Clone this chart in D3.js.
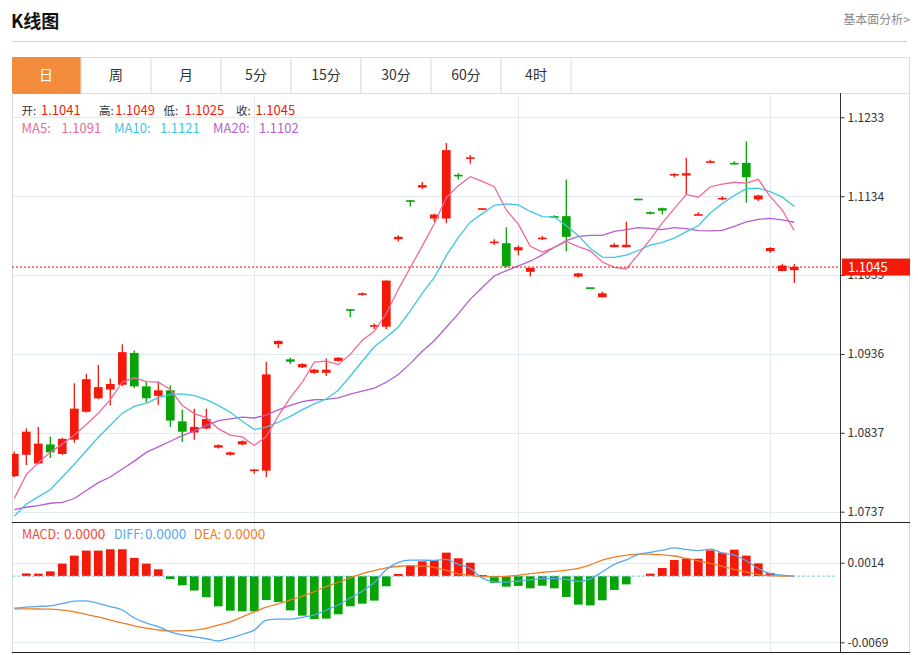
<!DOCTYPE html>
<html>
<head>
<meta charset="utf-8">
<script src="https://cdn.jsdelivr.net/npm/d3@7/dist/d3.min.js"></script>
<style>
html,body{margin:0;padding:0;background:#fff;}
svg{display:block;}
text{font-family:"Noto Sans CJK SC","Liberation Sans",sans-serif;}
</style>
</head>
<body>
<svg id="chart" width="918" height="655"></svg>
<script>
// ---------- data ----------
const tabs = ["日","周","月","5分","15分","30分","60分","4时"];
const opens = [1.0782,1.0809,1.0798,1.0822,1.0810,1.0828,1.0863,1.0880,1.0891,1.0897,
1.0937,1.0895,1.0883,1.0890,1.0851,1.0837,1.0842,1.0818,1.0809,1.0822,
1.0789,1.0789,1.0948,1.0929,1.0919,1.0912,1.0912,1.0927,1.0992,1.1010,
1.0970,1.0970,1.1080,1.1129,1.1145,1.1106,1.1106,1.1161,1.1181,1.1117,
1.1075,1.1075,1.1066,1.1039,1.1080,1.1109,1.1109,1.1033,1.1019,1.1007,
1.1070,1.1070,1.1131,1.1114,1.1119,1.1160,1.1160,1.1110,1.1176,1.1130,
1.1176,1.1176,1.1130,1.1065,1.1040,1.1041];
const highs = [1.0813,1.0842,1.0844,1.0832,1.0830,1.0899,1.0911,1.0922,1.0905,1.0948,
1.0940,1.0901,1.0901,1.0896,1.0866,1.0867,1.0867,1.0822,1.0813,1.0827,
1.0791,1.0926,1.0953,1.0931,1.0924,1.0917,1.0930,1.0932,1.0992,1.1013,
1.0974,1.1028,1.1085,1.1129,1.1152,1.1112,1.1201,1.1163,1.1186,1.1119,
1.1080,1.1095,1.1072,1.1044,1.1084,1.1110,1.1155,1.1038,1.1019,1.1014,
1.1075,1.1102,1.1131,1.1115,1.1120,1.1163,1.1182,1.1114,1.1180,1.1134,
1.1178,1.1203,1.1136,1.1070,1.1049,1.1049];
const lows = [1.0781,1.0796,1.0797,1.0805,1.0809,1.0824,1.0862,1.0879,1.0871,1.0895,
1.0893,1.0875,1.0872,1.0844,1.0825,1.0828,1.0841,1.0817,1.0808,1.0821,
1.0785,1.0781,1.0943,1.0923,1.0918,1.0911,1.0908,1.0926,1.0982,1.1009,
1.0967,1.0967,1.1077,1.1121,1.1143,1.1102,1.1100,1.1155,1.1175,1.1117,
1.1073,1.1044,1.1060,1.1033,1.1079,1.1107,1.1065,1.1032,1.1018,1.1007,
1.1070,1.1070,1.1129,1.1111,1.1111,1.1158,1.1137,1.1110,1.1176,1.1129,
1.1174,1.1126,1.1128,1.1063,1.1040,1.1025];
const closes = [1.0810,1.0838,1.0823,1.0812,1.0829,1.0867,1.0904,1.0894,1.0898,1.0938,
1.0895,1.0880,1.0890,1.0852,1.0838,1.0844,1.0854,1.0821,1.0812,1.0826,
1.0790,1.0910,1.0952,1.0926,1.0923,1.0916,1.0916,1.0931,1.0990,1.1012,
1.0972,1.1028,1.1083,1.1127,1.1148,1.1111,1.1192,1.1159,1.1183,1.1119,
1.1077,1.1046,1.1070,1.1044,1.1082,1.1107,1.1083,1.1037,1.1018,1.1012,
1.1073,1.1073,1.1129,1.1112,1.1116,1.1162,1.1163,1.1111,1.1178,1.1132,
1.1174,1.1158,1.1135,1.1069,1.1047,1.1045];
// moving-average values at the left edge (window reaches before the visible data)
const ma5Head  = [1.0754,1.0784,1.0799,1.0812];
const ma10Head = [1.0732,1.0747,1.0756,1.0765,1.0781,1.0797,1.0814,1.0831,1.0846];
const ma20Head = [1.0740,1.0743,1.0745,1.0748,1.0749,1.0754,1.0764,1.0774,1.0781,1.0791,
1.0801,1.0812,1.0819,1.0826,1.0833,1.0839,1.0846,1.0852,1.0854];
// MACD panel values
const macdHist = [0,0.00028,0.00026,0.0005,0.0013,0.00214,0.00266,0.00266,0.0028,0.0028,
0.0019,0.0013,0.00071,-0.0003,-0.00096,-0.0015,-0.0022,-0.00315,-0.0036,-0.00367,
-0.00367,-0.0025,-0.0027,-0.00357,-0.00412,-0.00447,-0.00443,-0.00398,-0.00315,-0.00287,
-0.00255,-0.00106,0.00023,0.0011,0.00154,0.00165,0.00245,0.00186,0.0014,0.00012,
-0.0007,-0.0011,-0.00102,-0.00127,-0.001,-0.00127,-0.00217,-0.00297,-0.00305,-0.00252,
-0.00144,-0.00086,0,0.00026,0.00085,0.00169,0.00182,0.00182,0.00269,0.00245,
0.00276,0.00214,0.00133,0.00033,0,0];
const diffVals = [-0.00333,-0.00323,-0.00316,-0.0031,-0.00286,-0.0026,-0.00258,-0.00285,-0.00317,-0.00353,
-0.00437,-0.00489,-0.00527,-0.00581,-0.00613,-0.00633,-0.00653,-0.00675,-0.00647,-0.00606,
-0.00563,-0.00459,-0.00449,-0.00449,-0.0043,-0.00404,-0.00353,-0.00301,-0.00228,-0.00158,
-0.00067,0.00066,0.00143,0.00167,0.00166,0.00165,0.00175,0.00123,0.00081,-0.00021,
-0.00059,-0.00062,-0.00051,-0.0004,-0.00026,-0.00026,-0.00034,-0.00055,-0.00029,0.00045,
0.00123,0.00169,0.00227,0.00248,0.0027,0.00294,0.00278,0.00265,0.00282,0.00241,
0.0022,0.0016,0.00079,0.00026,0.0001,0];
const deaVals = [-0.00341,-0.00342,-0.00343,-0.00344,-0.00355,-0.00372,-0.00399,-0.00425,-0.00459,-0.00489,
-0.00518,-0.00542,-0.00561,-0.00571,-0.00571,-0.00564,-0.00544,-0.0051,-0.00476,-0.00424,
-0.00373,-0.00324,-0.00289,-0.0025,-0.00209,-0.00162,-0.00109,-0.00064,-0.00018,0.00027,
0.00058,0.00085,0.00103,0.0011,0.00105,0.00092,0.0006,0.00027,0.00008,-0.00005,
-0.0001,-0.00002,0.00008,0.00027,0.0004,0.00049,0.00063,0.00082,0.00118,0.00168,
0.00199,0.00217,0.00229,0.00229,0.00221,0.0021,0.00185,0.0016,0.00132,0.00101,
0.0007,0.00041,0.00019,0.00005,0,0];
const priceTickLabels = ["1.0737","1.0837","1.0936","1.1035","1.1134","1.1233"];
const priceRange = [1.07374, 1.12333];
const macdTickLabels = ["-0.0069","0.0014"];
const gridDayIdx = [20, 42, 63];
const lastPrice = "1.1045";
const ohlcLegend = [["开:","1.1041"],["高:","1.1049"],["低:","1.1025"],["收:","1.1045"]];
const maLegend = [["MA5:","1.1091"],["MA10:","1.1121"],["MA20:","1.1102"]];
const macdLegend = [["MACD:","0.0000"],["DIFF:","0.0000"],["DEA:","0.0000"]];

// ---------- layout ----------
const svg = d3.select("#chart");
const L = 12, R = 910, AX = 840.5;
const mainTop = 93, mainBot = 522, macdBot = 652;
const RED = "#f3190b", GREEN = "#07a307";
const C_MA5 = "#ee6a9c", C_MA10 = "#3fc7e0", C_MA20 = "#b35fcf";
const C_DIFF = "#55a7f0", C_DEA = "#f07c25";
const LATIN = "'Liberation Sans','Noto Sans CJK SC',Arial,sans-serif";

// header
svg.append("text").attr("x", 11).attr("y", 28).attr("font-size", 18).attr("font-weight", "bold")
  .attr("fill", "#111").text("K线图");
svg.append("text").attr("x", 910).attr("y", 24).attr("text-anchor", "end").attr("font-size", 12)
  .attr("fill", "#8a8a8a").text("基本面分析>");
svg.append("line").attr("x1", L).attr("x2", R - 3).attr("y1", 41.5).attr("y2", 41.5)
  .attr("stroke", "#cfcfcf").attr("stroke-width", 1.2);

// tabs
const tabG = svg.append("g");
tabG.append("rect").attr("x", L + 0.5).attr("y", 57.5).attr("width", R - L - 1).attr("height", 36)
  .attr("fill", "#fff").attr("stroke", "#dedede");
const tabX = d3.scaleBand().domain(tabs).range([11, 571]);
tabs.forEach((t, k) => {
  const x0 = Math.max(L + 0.5, tabX(t));
  tabG.append("rect").attr("x", x0).attr("y", 57.5).attr("width", tabX(t) + tabX.bandwidth() - x0).attr("height", 36)
    .attr("fill", k === 0 ? "#f38b3d" : "#fff").attr("stroke", k === 0 ? "#f38b3d" : "#dedede");
  tabG.append("text").attr("x", tabX(t) + tabX.bandwidth() / 2).attr("y", 80)
    .attr("text-anchor", "middle").attr("font-size", 14).attr("fill", k === 0 ? "#fff" : "#333").text(t);
});

// scales
const idx = closes.map((_, i) => i);
const x = d3.scaleBand().domain(idx).range([8.3, 800.3]).paddingInner(0.275).paddingOuter(0.1375);
const bw = x.bandwidth();
const cx = i => x(i) + bw / 2;
const y = d3.scaleLinear().domain(priceRange).range([511.7, 117.3]);
const priceTickVals = priceTickLabels.map((_, k) => priceRange[0] + k * (priceRange[1] - priceRange[0]) / (priceTickLabels.length - 1));
const yM = d3.scaleLinear().domain([-0.0069, 0.0014]).range([642.3, 562.7]);

// clip
const defs = svg.append("defs");
defs.append("clipPath").attr("id", "clipMain").append("rect").attr("x", L).attr("y", mainTop).attr("width", AX - L).attr("height", mainBot - mainTop);
defs.append("clipPath").attr("id", "clipMacd").append("rect").attr("x", L).attr("y", mainBot).attr("width", AX - L).attr("height", macdBot - mainBot);

// grid
const grid = svg.append("g").attr("stroke", "#e2e9f0").attr("stroke-width", 1);
priceTickVals.forEach(v => {
  const yy = Math.round(y(v)) + 0.5;
  grid.append("line").attr("x1", L).attr("x2", AX).attr("y1", yy).attr("y2", yy);
});
[0.0014, -0.0069].forEach(v => {
  const yy = Math.round(yM(v)) + 0.5;
  grid.append("line").attr("x1", L).attr("x2", AX).attr("y1", yy).attr("y2", yy);
});
gridDayIdx.forEach(i => {
  const xx = Math.round(cx(i)) + 0.5;
  grid.append("line").attr("x1", xx).attr("x2", xx).attr("y1", mainTop).attr("y2", macdBot);
});

// frame
svg.append("line").attr("x1", L + 0.5).attr("x2", L + 0.5).attr("y1", mainTop).attr("y2", macdBot).attr("stroke", "#dadada");
svg.append("line").attr("x1", R - 0.5).attr("x2", R - 0.5).attr("y1", mainTop).attr("y2", macdBot).attr("stroke", "#dadada");

// candles
const cg = svg.append("g").attr("clip-path", "url(#clipMain)");
idx.forEach(i => {
  const up = closes[i] >= opens[i];
  const col = up ? RED : GREEN;
  cg.append("line").attr("x1", cx(i)).attr("x2", cx(i)).attr("y1", y(highs[i])).attr("y2", y(lows[i]))
    .attr("stroke", col).attr("stroke-width", 1.3);
  const y1 = y(Math.max(opens[i], closes[i])), y2 = y(Math.min(opens[i], closes[i]));
  const h = Math.max(1.6, y2 - y1);
  cg.append("rect").attr("x", x(i)).attr("y", h > y2 - y1 ? (y1 + y2) / 2 - h / 2 : y1).attr("width", bw).attr("height", h)
    .attr("fill", col);
});

// moving averages
function movingAvg(n, head) {
  return closes.map((_, i) => i < n - 1 ? head[i] : d3.mean(closes.slice(i - n + 1, i + 1)));
}
const ma5 = movingAvg(5, ma5Head), ma10 = movingAvg(10, ma10Head), ma20 = movingAvg(20, ma20Head);
const lineP = d3.line().x((d, i) => cx(i)).y(d => y(d));
[[ma20, C_MA20], [ma10, C_MA10], [ma5, C_MA5]].forEach(([arr, c]) => {
  cg.append("path").attr("d", lineP(arr)).attr("fill", "none").attr("stroke", c).attr("stroke-width", 1.3);
});

// last price line
const yLast = y(+lastPrice);
svg.append("line").attr("x1", L).attr("x2", AX).attr("y1", yLast).attr("y2", yLast)
  .attr("stroke", "#f00").attr("stroke-width", 1).attr("stroke-dasharray", "2,2");

// MACD bars and lines
const mg = svg.append("g").attr("clip-path", "url(#clipMacd)");
idx.forEach(i => {
  const v = macdHist[i];
  if (v === 0) return;
  const ya = yM(Math.max(0, v)), yb = yM(Math.min(0, v));
  mg.append("rect").attr("x", x(i)).attr("y", ya).attr("width", bw).attr("height", Math.max(0.8, yb - ya))
    .attr("fill", v > 0 ? RED : GREEN);
});
const y0 = yM(0);
mg.append("line").attr("x1", L).attr("x2", AX - 4).attr("y1", y0).attr("y2", y0)
  .attr("stroke", "#79c6e6").attr("stroke-dasharray", "3,2").attr("stroke-width", 1);
const lineM = d3.line().x((d, i) => cx(i)).y(d => yM(d)).curve(d3.curveMonotoneX);
mg.append("path").attr("d", lineM(deaVals)).attr("fill", "none").attr("stroke", C_DEA).attr("stroke-width", 1.3);
mg.append("path").attr("d", lineM(diffVals)).attr("fill", "none").attr("stroke", C_DIFF).attr("stroke-width", 1.3);

// pane separators
svg.append("line").attr("x1", L).attr("x2", R).attr("y1", mainBot + 0.5).attr("y2", mainBot + 0.5).attr("stroke", "#222");
svg.append("line").attr("x1", L).attr("x2", R).attr("y1", macdBot + 0.5).attr("y2", macdBot + 0.5).attr("stroke", "#222");

// right axes
const axMain = svg.append("g").attr("transform", `translate(${AX},0)`)
  .call(d3.axisRight(y).tickValues(priceTickVals).tickSize(4).tickSizeOuter(0).tickPadding(3)
    .tickFormat((d, k) => priceTickLabels[k]));
const axMacd = svg.append("g").attr("transform", `translate(${AX},0)`)
  .call(d3.axisRight(yM).tickValues([-0.0069, 0.0014]).tickSize(4).tickSizeOuter(0).tickPadding(3)
    .tickFormat((d, k) => macdTickLabels[k]));
[axMain, axMacd].forEach(g => {
  g.select(".domain").remove();
  g.selectAll("line").attr("stroke", "#333");
  g.selectAll("text").attr("font-size", 12).attr("fill", "#333").attr("font-family", LATIN);
});
svg.append("line").attr("x1", AX).attr("x2", AX).attr("y1", mainTop).attr("y2", macdBot + 1).attr("stroke", "#333");

// last price tag
svg.append("rect").attr("x", 842).attr("y", yLast - 8.5).attr("width", R - 842).attr("height", 17).attr("fill", "#f41a0a");
svg.append("text").attr("x", 848).attr("y", yLast + 4.5).attr("font-size", 13).attr("fill", "#fff")
  .attr("font-family", LATIN).text(lastPrice);

// legends
function legendRow(items, labelXs, valueXs, yy, labelColors, valueColors, labelSize, size) {
  items.forEach(([lab, val], k) => {
    const t = svg.append("text").attr("x", labelXs[k]).attr("y", yy).attr("font-size", labelSize)
      .attr("font-family", LATIN).attr("fill", labelColors[k]).text(lab);
    const end = labelXs[k] + t.node().getComputedTextLength() + 1.5;
    svg.append("text").attr("x", Math.max(valueXs[k], end)).attr("y", yy).attr("font-size", size)
      .attr("font-family", LATIN).attr("fill", valueColors[k]).text(val);
  });
}
legendRow(ohlcLegend, [21.5, 99, 163.5, 236], [41, 112, 184.5, 255.5], 114.5,
  ["#333","#333","#333","#333"], [RED, RED, RED, RED], 11.5, 13);
legendRow(maLegend, [21.5, 114, 213], [61.5, 160, 259], 133,
  [C_MA5, C_MA10, C_MA20], [C_MA5, C_MA10, C_MA20], 13, 13);
legendRow(macdLegend, [22, 114, 194], [64, 144, 224], 538.5,
  ["#f2493b", C_DIFF, C_DEA], ["#f2493b", C_DIFF, C_DEA], 12.5, 13.5);
</script>
</body>
</html>
